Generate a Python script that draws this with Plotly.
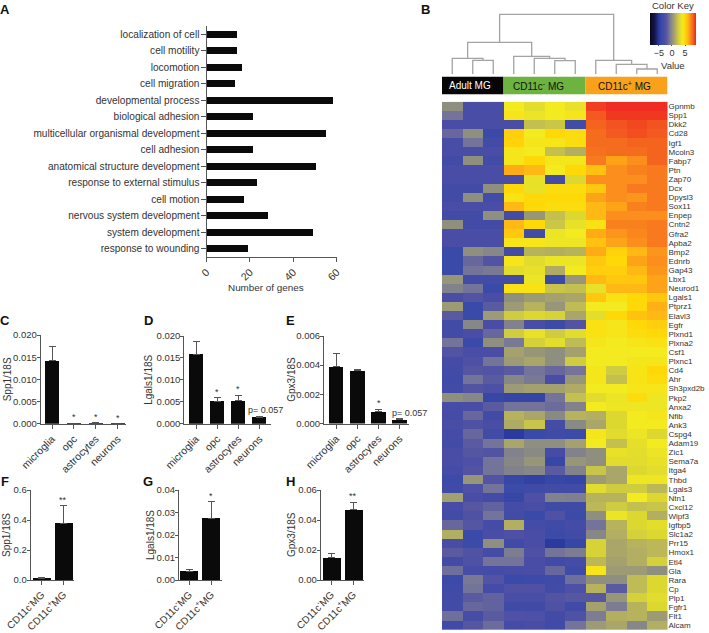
import plotly.graph_objects as go

# panel A
go_terms = ['localization of cell', 'cell motility', 'locomotion', 'cell migration',
            'developmental process', 'biological adhesion', 'multicellular organismal development',
            'cell adhesion', 'anatomical structure development', 'response to external stimulus',
            'cell motion', 'nervous system development', 'system development', 'response to wounding']
go_counts = [14, 14, 16, 13, 58, 21, 55, 21, 50, 23, 17, 28, 49, 19]

# panels C-E
cell_types = ['microglia', 'opc', 'astrocytes', 'neurons']
spp1_cells = [0.0142, 0.0001, 0.0001, 0.00003]
spp1_cells_upper = [0.0175, 0.00015, 0.00018, 0.00004]
lgals1_cells = [0.0158, 0.0051, 0.0052, 0.0015]
lgals1_cells_upper = [0.0187, 0.0059, 0.0065, 0.0017]
gpx3_cells = [0.0039, 0.00363, 0.0008, 0.00027]
gpx3_cells_upper = [0.0048, 0.0037, 0.00097, 0.00037]

# panels F-H
mg_types = ['CD11c<sup>-</sup>MG', 'CD11c<sup>+</sup>MG']
spp1_mg = [0.01, 0.38]
spp1_mg_upper = [0.015, 0.495]
lgals1_mg = [0.004, 0.0275]
lgals1_mg_upper = [0.0045, 0.0347]
gpx3_mg = [0.015, 0.047]
gpx3_mg_upper = [0.0175, 0.052]

# panel B
genes = ['Gpnmb', 'Spp1', 'Dkk2', 'Cd28', 'Igf1', 'Mcoln3', 'Fabp7', 'Ptn', 'Zap70', 'Dcx', 'Dpysl3', 'Sox11',
         'Enpep', 'Cntn2', 'Gfra2', 'Apba2', 'Bmp2', 'Ednrb', 'Gap43', 'Lbx1', 'Neurod1', 'Lgals1', 'Ptprz1',
         'Elavl3', 'Egfr', 'Plxnd1', 'Plxna2', 'Csf1', 'Plxnc1', 'Cd4', 'Ahr', 'Sh3pxd2b', 'Pkp2', 'Anxa2',
         'Nfib', 'Ank3', 'Cspg4', 'Adam19', 'Zic1', 'Sema7a', 'Itga4', 'Thbd', 'Lgals3', 'Ntn1', 'Cxcl12',
         'Wipf3', 'Igfbp5', 'Slc1a2', 'Prr15', 'Hmox1', 'Etl4', 'Gla', 'Rara', 'Cp', 'Plp1', 'Fgfr1', 'Flt1',
         'Alcam']
expression = [
    [0, -3, -3, 4, 3.3, 4, 3.5, 8.7, 9, 9, 9],
    [-1, -3, -3, 4.3, 3.7, 4, 4.2, 8.2, 8.8, 8.8, 8.8],
    [-3, -3, -3, -3, 2, 2.3, -3.5, 8, 8.3, 8.5, 8.3],
    [-1.5, 0, -4, 5.3, 4, 5, 4.7, 7.8, 8.2, 8.4, 8.2],
    [-3, -1, -3.5, 5.2, 4.2, 4.3, 4.7, 7.8, 7.8, 8, 8],
    [-3, -3, -3, 4.2, 4, 2, 1.3, 7.7, 7.8, 7.8, 8],
    [-3.5, 0, -3.5, 4.2, 5, 4.2, 4.2, 7.5, 6.5, 7, 8],
    [-3, -3, -3, 6.3, 6, 4, 5, 5.7, 7, 7.3, 7.5],
    [-3, -3, -3, -3, 3.5, -3.5, 3, 7, 7, 7, 7.5],
    [-3.5, -3.5, 0, 5, 3.5, 4.7, 4.7, 5.5, 7, 7.5, 7.5],
    [-3.5, 0, -3.5, 4.5, 5, 5, 5, 6.5, 7, 6.8, 7.5],
    [-3, -3, -3, 6, 5, 4.7, 4.7, 6, 6.5, 7.3, 7.5],
    [-3.5, -3.5, 0, -3.5, 0.3, 2, 3, 6, 7, 7, 7],
    [0, -3.5, -3.5, 6, 5, 2.3, 3.5, 4.5, 7.3, 7.3, 7.5],
    [-3, -3, -3, 5.5, -3.5, 3.7, 4, 6.3, 6.8, 7.2, 7.5],
    [-3, -3, -3, 4.3, 4.3, 3.8, 3.8, 5.7, 6.5, 7, 7.5],
    [-4, 0, -0.3, -3.5, 1.5, 1.3, 1.5, 6.3, 5.2, 6, 6.8],
    [-4, -1.5, -2.5, 4.3, 3.2, 3.7, 3.7, 5.5, 5, 6.5, 7],
    [-4, -1, -0.8, 3.2, 3.5, 1.2, 4, 5.3, 5.3, 6, 6.8],
    [0.3, -3.5, -3.5, -3.5, 3.7, -4, 0.3, 6, 5.5, 5.5, 6.5],
    [-0.5, -1, -4, 4.5, 4.5, 2.2, 2, 3.5, 6, 6, 6.5],
    [-3, -2.5, -3, 0, 0.5, 0.8, 1, 5.5, 4.5, 5, 5.5],
    [0.5, -4, -2, 0.5, 1.5, 0.3, 1.8, 4, 4, 5, 6.2],
    [-2, -4, 0.5, 2.5, 3, 2.8, 1, 3.3, 5, 5.7, 6],
    [-3.5, -0.3, -3, -0.5, -3, -3.8, -2.5, 4.5, 4.2, 5, 5.3],
    [-3.5, -3, -1.5, 2.5, 3.5, 2.5, 3.2, 4.5, 4.3, 4.8, 5],
    [-1, -4, 0, -0.8, 2.7, 3.3, 1.8, 4.2, 4, 4.3, 4.5],
    [-2.5, -3, -3, 0.8, 0.3, 0, 0.8, 4, 4, 4, 4],
    [-3.3, -2.8, -1, 0.5, 1, 0, 2.5, 4, 4, 4.2, 4.2],
    [-3.5, -2.3, -2.5, -2, -1, -1.5, -1, 4.2, 2.5, 4.4, 5],
    [-3.7, -1, -2, -0.3, -0.8, -3, 0.3, 4.2, 2, 4.4, 4.8],
    [-3.5, -2.5, -2.8, 0.5, 0.8, 0.8, 1.2, 4, 4, 4.3, 4.3],
    [0, -0.3, -4.2, -4.3, -4.3, -1, 2, 3.2, 3.7, 4.8, 3.8],
    [-3.2, -3, -2, -1, -1, -1.3, -0.5, 4, 3.8, 3.8, 3.8],
    [-3.3, -1.5, -3.5, 1.5, 1, -0.2, 1.5, 1.3, 3, 4, 4.2],
    [-3, -2.7, -3, 1.2, 2.2, -3.3, -0.2, 1, 3, 4, 4],
    [-3.3, -1.5, -3.5, -5, -4, -3.7, -3.8, 4.2, 3.2, 3.7, 3],
    [-3.5, -2, -1, 1, 0, 0, 0.8, 4, 2, 3.4, 4],
    [-3, -2.3, -2.5, -0.5, -0.2, -3.3, -0.5, 0, 3.5, 3.3, 3.7],
    [-3, -2.8, -1, -0.3, 0.3, -4.2, 0.3, 0, 3.2, 3.2, 3.5],
    [-3.3, -2.5, -1, -0.5, -0.3, -2, -0.5, 2.2, 1, 3, 3.3],
    [-3.8, 0.3, -2.5, -4.2, -4.5, -4.2, -4.3, 0.5, 1, 3.8, 3.8],
    [-3.6, -2.7, -1, -3.8, -3.7, -3.5, -3.5, 3.2, 2.5, 2.5, 1.7],
    [0.7, -3, -3.5, -4.2, -2.8, -0.5, -0.6, 1.5, 1.5, 4, 3],
    [-3.2, -2.2, -1.7, -3.3, -3, -3.7, -3.7, 1.7, 2.5, 2, 2.2],
    [-3.5, -2.7, -1, -3.5, -4, -2.7, -3.8, 0, 3.7, 3, 1.3],
    [-1.5, -2.3, -3.3, 1.3, -3.3, -3.7, -3.3, -1, 1.5, 3, 3.3],
    [1.3, -4, -3, -2.8, -3, -3.9, -3.5, -0.3, 1.3, 2.7, 3],
    [-3, -3.8, 0, -3.7, -3, -5, -4.2, 2.8, 1, 1.5, 1.7],
    [-2, -2.6, -3.3, -0.7, -2.8, -1, -0.7, 2.8, 1, 1.3, 1.7],
    [-3.5, -2.7, -1, -1, -3, -3.6, -3.3, 1.7, 0.8, 1.3, 2.7],
    [-1.2, -3.2, -3.3, -3.2, -3, -1.5, -3.7, 4.3, 0.5, 0.5, 0],
    [-3.8, -0.8, -2.5, -4, -3.8, -3.7, -1.2, 0, 0, 1.8, 3],
    [-3.6, -1, -3.3, -2.7, -2.7, -3.5, -2.8, 1.5, -2, 1.8, 3],
    [-3.5, -2, -1.7, -3, -3, -2.5, -2.2, -2.2, 0.3, 2.7, 3.2],
    [-3.5, -1.5, -1.7, -3.6, -3.6, -2.7, -3.6, 0.8, -0.7, 1.5, 3],
    [-1.2, -3.2, -2, -2.7, -2.8, -3.5, -2.7, -0.7, 1.3, 1.5, 0.5],
    [-3.7, -2.3, -1.3, -3.3, -3, -3.7, -1, 0.5, 1, -0.3, 1.3],
]
group_names = ['Adult MG', 'CD11c<sup>-</sup> MG', 'CD11c<sup>+</sup> MG']
group_first = [0, 3, 7]
group_last = [2, 6, 10]

# dendrogram merges, positions in columns, heights in tree units
merge_left = [1, 0, 5, 4, 3, 0.75, 9, 8, 7, 2.31]
merge_right = [2, 1.5, 6, 5.5, 4.75, 3.875, 10, 9.5, 8.75, 7.875]
merge_left_h = [0, 0, 0, 0, 0, 15.7, 0, 0, 0, 31.7]
merge_right_h = [0, 13.7, 0, 13.3, 15.7, 17.7, 0, 5, 9.7, 13.7]
merge_h = [13.7, 15.7, 13.3, 15.7, 17.7, 31.7, 5, 9.7, 13.7, 59.7]

W = 709
H = 633
FONT = 'Liberation Sans, Arial, sans-serif'
TEXT = '#333333'
LINE = '#555555'
BAR = '#0a0a0a'
ZMIN = -8.4
ZMAX = 9.2
STOPS = [(-8.4, '#07071f'), (-6.5, '#14184f'), (-5, '#2a3a9f'), (-4, '#3a4aa8'), (-3, '#4a4da6'),
         (-2, '#5a5aa0'), (-1, '#74749a'), (0, '#8f8f80'), (1, '#aaa66a'), (2, '#c4c050'),
         (3, '#dcd830'), (4, '#f3ea20'), (5, '#ffd808'), (6, '#ffb814'), (7, '#fb8e1c'),
         (8, '#f4641f'), (9.2, '#ee2222')]


def xdom(a, b):
    return [a / W, b / W]


def ydom(top, bottom):
    return [1 - bottom / H, 1 - top / H]


fig = go.Figure()
annotations = []
axes = {}


def label(text, px, py, size=9.5, color=TEXT, angle=0, bold=False):
    annotations.append(dict(text=('<b>%s</b>' % text) if bold else text, x=px / W, y=1 - py / H, xref='paper',
                            yref='paper', showarrow=False, textangle=angle, xanchor='center', yanchor='middle',
                            font=dict(size=size, color=color, family=FONT)))


def add_panel(n, cats, vals, upper, x_px, y_px, c0, step, width, ymax, yticks, ytext, title, title_x, stars,
              cat_size=10.5):
    xname = 'x%d' % n
    yname = 'y%d' % n
    err = [u - v for u, v in zip(upper, vals)]
    fig.add_trace(go.Bar(x=list(range(len(cats))), y=vals, width=width, marker_color=BAR, marker_line_width=0,
                         error_y=dict(type='data', symmetric=False, array=err, arrayminus=[0] * len(err),
                                      color=LINE, thickness=1, width=3.5),
                         xaxis=xname, yaxis=yname, showlegend=False))
    axes['xaxis%d' % n] = dict(domain=xdom(*x_px), anchor=yname,
                               range=[(x_px[0] - c0) / step, (x_px[1] - c0) / step],
                               tickmode='array', tickvals=list(range(len(cats))), ticktext=cats, tickangle=-45,
                               ticks='outside', ticklen=4, tickcolor=LINE, linecolor=LINE, showline=True,
                               showgrid=False, zeroline=False, tickfont=dict(size=cat_size, color=TEXT, family=FONT))
    axes['yaxis%d' % n] = dict(domain=ydom(*y_px), anchor=xname, range=[0, ymax], tickmode='array',
                               tickvals=yticks, ticktext=ytext, ticks='outside', ticklen=3, tickcolor=LINE,
                               linecolor=LINE, showline=True, showgrid=False, zeroline=False, ticklabelstandoff=-2,
                               tickfont=dict(size=9.5, color=TEXT, family=FONT))
    label(title, title_x, (y_px[0] + y_px[1]) / 2, size=10, angle=-90)
    for i, s in stars:
        annotations.append(dict(text=s, x=i, y=upper[i], xref=xname, yref=yname, showarrow=False, yanchor='bottom',
                                yshift=-1, font=dict(size=9, color=TEXT, family=FONT)))


# panel A
fig.add_trace(go.Bar(x=go_counts, y=go_terms, orientation='h', width=0.45, marker_color=BAR, marker_line_width=0,
                     xaxis='x1', yaxis='y1', showlegend=False))
axes['xaxis1'] = dict(domain=xdom(206.5, 336.7), anchor='y1', range=[0, 60], tickvals=[0, 20, 40, 60], tickangle=-45,
                      ticks='outside', ticklen=4, tickcolor=LINE, linecolor=LINE, showline=True, showgrid=False,
                      zeroline=False, tickfont=dict(size=10.5, color=TEXT, family=FONT))
axes['yaxis1'] = dict(domain=ydom(26, 257), anchor='x1', autorange=False, range=[13.5, -0.5], type='category',
                      categoryorder='array', categoryarray=go_terms, ticks='outside', ticklen=5, tickcolor=LINE,
                      linecolor=LINE, showline=True, showgrid=False, ticklabelstandoff=-1,
                      tickfont=dict(size=10.1, color=TEXT, family=FONT))
label('Number of genes', 265.5, 287, size=9.9)

# panels C-H
add_panel(2, cell_types, spp1_cells, spp1_cells_upper, (40.7, 125.7), (335, 423.7), 52, 21.9, 0.65, 0.02,
          [0, 0.005, 0.01, 0.015, 0.02], ['0.000', '0.005', '0.010', '0.015', '0.020'], 'Spp1/18S', 7,
          [(1, '*'), (2, '*'), (3, '*')])
add_panel(3, cell_types, lgals1_cells, lgals1_cells_upper, (184.3, 270.7), (336, 423.7), 196, 21.2, 0.67, 0.02,
          [0, 0.005, 0.01, 0.015, 0.02], ['0.000', '0.005', '0.010', '0.015', '0.020'], 'Lgals1/18S', 149,
          [(1, '*'), (2, '*')])
add_panel(4, cell_types, gpx3_cells, gpx3_cells_upper, (324, 409), (336, 423.5), 336.3, 21.1, 0.68, 0.006,
          [0, 0.002, 0.004, 0.006], ['0.000', '0.002', '0.004', '0.006'], 'Gpx3/18S', 292,
          [(2, '*')])
add_panel(5, mg_types, spp1_mg, spp1_mg_upper, (30.7, 74), (490, 580), 41.7, 21.7, 0.84, 0.6,
          [0, 0.2, 0.4, 0.6], ['0.0', '0.2', '0.4', '0.6'], 'Spp1/18S', 6, [(1, '**')], cat_size=10)
add_panel(6, mg_types, lgals1_mg, lgals1_mg_upper, (179, 222), (490, 580), 189.3, 22, 0.82, 0.04,
          [0, 0.01, 0.02, 0.03, 0.04], ['0.00', '0.01', '0.02', '0.03', '0.04'], 'Lgals1/18S', 150, [(1, '*')],
          cat_size=10)
add_panel(7, mg_types, gpx3_mg, gpx3_mg_upper, (320.7, 364), (490, 580), 331.3, 22, 0.82, 0.06,
          [0, 0.02, 0.04, 0.06], ['0.00', '0.02', '0.04', '0.06'], 'Gpx3/18S', 291, [(1, '**')], cat_size=10)
label('p= 0.057', 265, 410, size=9)
label('p= 0.057', 409, 413, size=9)

# panel B heatmap with colour key
span = ZMAX - ZMIN
fig.add_trace(go.Heatmap(z=expression, x=list(range(11)), y=genes, zmin=ZMIN, zmax=ZMAX,
                         colorscale=[[(v - ZMIN) / span, c] for v, c in STOPS], xaxis='x8', yaxis='y8',
                         colorbar=dict(orientation='h', lenmode='pixels', len=46, thickness=31.6,
                                       x=650 / W, xanchor='left', y=1 - 12.7 / H, yanchor='top', xpad=0, ypad=0,
                                       outlinewidth=0, tickvals=[-5, 0, 5], ticks='outside', ticklen=1,
                                       tickcolor=LINE, tickfont=dict(size=9, color=TEXT, family=FONT))))
axes['xaxis8'] = dict(domain=xdom(442, 667.5), anchor='y8', range=[-0.5, 10.5], showticklabels=False, ticks='',
                      showgrid=False, zeroline=False, showline=False)
axes['yaxis8'] = dict(domain=ydom(101.7, 630), anchor='x8', side='right', autorange=False, range=[57.5, -0.5],
                      type='category', tickmode='array', tickvals=genes, ticktext=genes, ticks='', showgrid=False,
                      zeroline=False, showline=False, tickfont=dict(size=8, color=TEXT, family=FONT))
label('Color Key', 672.5, 6, size=9.5)
label('Value', 672.5, 65, size=9.5)

# dendrogram above the heatmap, sharing its column positions
tree_x = []
tree_y = []
for a, b, ha, hb, h in zip(merge_left, merge_right, merge_left_h, merge_right_h, merge_h):
    tree_x += [a, a, b, b, None]
    tree_y += [ha, h, h, hb, None]
fig.add_trace(go.Scatter(x=tree_x, y=tree_y, mode='lines', line=dict(color='#a3a3a3', width=1.3), xaxis='x9',
                         yaxis='y9', showlegend=False, hoverinfo='skip'))
axes['xaxis9'] = dict(domain=xdom(442, 667.5), anchor='y9', range=[-0.5, 10.5], visible=False)
axes['yaxis9'] = dict(domain=ydom(10, 74), anchor='x9', range=[0, 64], visible=False)

# group colour band
band_colors = ['#060606', '#6cb33f', '#f9a11b']
band_text = ['#ffffff', '#111111', '#111111']
band_nudge = [-3, -6, -2]
shapes = []
for name, first, last, col, tc, nudge in zip(group_names, group_first, group_last, band_colors, band_text, band_nudge):
    shapes.append(dict(type='rect', xref='x8', yref='paper', x0=first - 0.5, x1=last + 0.5,
                       y0=1 - 94.3 / H, y1=1 - 76.7 / H, fillcolor=col, line_width=0))
    annotations.append(dict(text=name, x=(first + last) / 2, y=1 - 85.5 / H, xref='x8', yref='paper', showarrow=False,
                            yanchor='middle', xshift=nudge, font=dict(size=10, color=tc, family=FONT)))

# panel letters
for letter, px, py in [('A', 5, 9), ('B', 426, 9), ('C', 5, 320), ('D', 148, 320), ('E', 290, 320),
                       ('F', 5, 481), ('G', 148, 481), ('H', 290, 481)]:
    label(letter, px, py, size=13, color='#111111', bold=True)

fig.update_layout(width=W, height=H, margin=dict(l=0, r=0, t=0, b=0, autoexpand=False), bargap=0,
                  paper_bgcolor='white', plot_bgcolor='white', showlegend=False, annotations=annotations,
                  shapes=shapes, **axes)

fig.write_html("out.html", config={'displayModeBar': False}, post_script="document.body.style.margin='0';")
